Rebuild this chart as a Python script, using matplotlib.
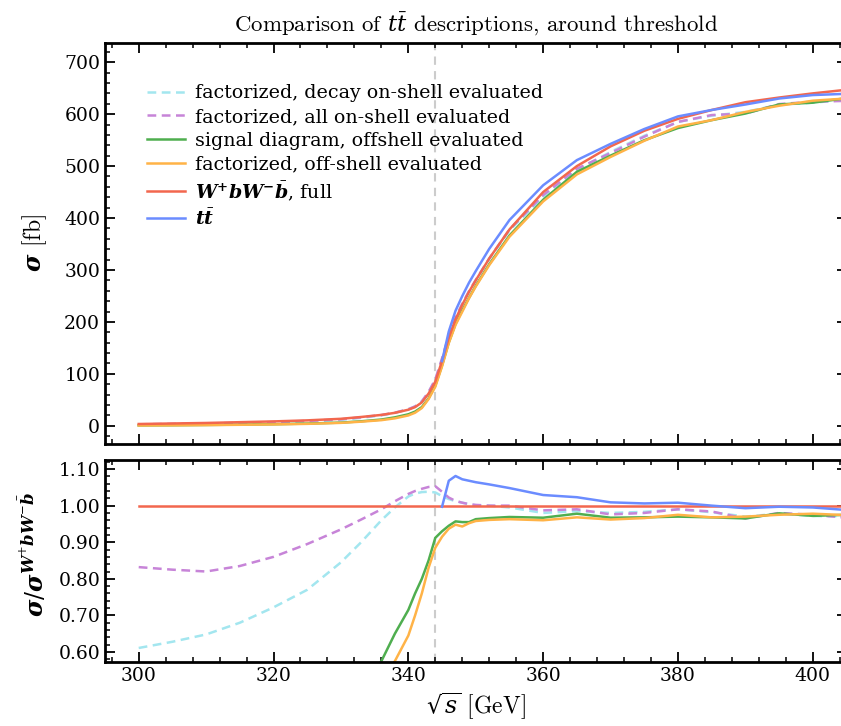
import numpy as np
import matplotlib
matplotlib.use('Agg')
import matplotlib.pyplot as plt
from matplotlib.ticker import MultipleLocator

plt.rcParams['font.family'] = ['DejaVu Serif']
plt.rcParams['mathtext.fontset'] = 'dejavuserif'

nan = np.nan

## sqrt(s) grid [GeV]
sqrt_s = [300, 305, 310, 315, 320, 325, 330, 333, 336, 338, 340, 341, 342, 343, 344,
          345, 346, 347, 348, 349, 350, 352, 355, 360, 365, 370, 375, 380, 385, 390,
          395, 400, 405]

threshold = 344

## cross sections [fb]
sig_full = [3.5, 4.5, 5.5, 7, 8.5, 10.5, 13.5, 17, 21, 25, 31, 36, 45, 62, 85,
            125, 170, 205, 233, 258, 280, 322, 378, 450, 500, 538, 568, 591, 608, 623,
            632, 640, 647]
sig_decay_os = [2.1, 2.8, 3.6, 4.8, 6.1, 8.1, 11.4, 15.3, 20.2, 24.9, 31.8, 37.2, 46.7, 64.4, 88.1,
                128.3, 173.1, 207.5, 234.9, 259.0, 280.3, 322, 376.1, 441, 492.5, 527.2, 558.3, 585.1, 597.1, 604.3,
                618.1, 622.1, 627.6]
sig_all_os = [2.9, 3.7, 4.5, 5.8, 7.3, 9.4, 12.6, 16.4, 20.8, 25.3, 32.0, 37.4, 47.1, 65.2, 89.5,
              129.8, 173.7, 207.7, 234.9, 259.0, 280.6, 322, 378, 444.2, 495, 525.1, 556.6, 585.1, 598.3, 601.2,
              619.4, 624, 625.6]
sig_signal = [0.9, 1.2, 1.7, 2.3, 3.1, 4.3, 6.2, 8.7, 12.1, 16.3, 22.2, 27.4, 36, 52.7, 77.5,
              116.3, 160.7, 196.2, 222.5, 246.4, 269.6, 311.1, 366.3, 435.2, 489, 520.2, 549.8, 573.3, 588.5, 601.2,
              618.7, 622.1, 630.8]
sig_fact_off = [0.7, 1.0, 1.4, 2.0, 2.7, 3.8, 5.7, 8.0, 10.9, 14.4, 20.0, 25.2, 34.2, 51.5, 75.2,
                114.4, 159.3, 194.3, 219.7, 245.6, 268.2, 309.4, 364.0, 432, 484, 517.6, 548.7, 576.2, 588.5, 604.3,
                616.2, 625.9, 630.2]
sig_tt = [nan, nan, nan, nan, nan, nan, nan, nan, nan, nan, nan, nan, nan, nan, nan,
          124.6, 181.6, 221.6, 249.8, 275.5, 297.9, 340.7, 396.1, 463.1, 511.5, 542.8, 571.4, 595.7, 608, 618.6,
          630.1, 636.8, 639.2]

## ratios to full W+bW-bbar
r_full = [1.0] * 33
r_decay_os = [0.611, 0.628, 0.648, 0.68, 0.722, 0.77, 0.845, 0.9, 0.96, 0.995, 1.025, 1.033, 1.037, 1.038, 1.036,
              1.026, 1.018, 1.012, 1.008, 1.004, 1.001, 1.0, 0.995, 0.98, 0.985, 0.98, 0.983, 0.99, 0.982, 0.97,
              0.978, 0.972, 0.97]
r_all_os = [0.832, 0.825, 0.82, 0.835, 0.86, 0.895, 0.935, 0.962, 0.99, 1.012, 1.032, 1.04, 1.046, 1.051, 1.053,
            1.038, 1.022, 1.013, 1.008, 1.004, 1.002, 1.0, 1.0, 0.987, 0.99, 0.976, 0.98, 0.99, 0.984, 0.965,
            0.98, 0.975, 0.967]
r_signal = [0.25, 0.27, 0.3, 0.33, 0.37, 0.41, 0.46, 0.51, 0.575, 0.65, 0.715, 0.76, 0.8, 0.85, 0.912,
            0.93, 0.945, 0.957, 0.955, 0.955, 0.963, 0.966, 0.969, 0.967, 0.978, 0.967, 0.968, 0.97, 0.968, 0.965,
            0.979, 0.972, 0.975]
r_fact_off = [0.2, 0.22, 0.25, 0.28, 0.32, 0.36, 0.42, 0.47, 0.52, 0.575, 0.645, 0.70, 0.76, 0.83, 0.885,
              0.915, 0.937, 0.948, 0.943, 0.952, 0.958, 0.961, 0.963, 0.96, 0.968, 0.962, 0.966, 0.975, 0.968, 0.97,
              0.975, 0.978, 0.974]
r_tt = [nan, nan, nan, nan, nan, nan, nan, nan, nan, nan, nan, nan, nan, nan, nan,
        0.997, 1.068, 1.081, 1.072, 1.068, 1.064, 1.058, 1.048, 1.029, 1.023, 1.009, 1.006, 1.008, 1.0, 0.993,
        0.997, 0.995, 0.988]

labels = ['factorized, decay on-shell evaluated',
          'factorized, all on-shell evaluated',
          'signal diagram, offshell evaluated',
          'factorized, off-shell evaluated',
          r'$\mathbfit{W}^{\mathbf{+}}\mathbfit{b}\mathbfit{W}^{\mathbf{-}}\bar{\mathbfit{b}}$, full',
          r'$\mathbfit{t}\bar{\mathbfit{t}}$']
colors = ['#a3e6ef', '#c784d8', '#4fae4f', '#ffb347', '#f2674e', '#6b8cff']
styles = ['--', '--', '-', '-', '-', '-']

top = [sig_decay_os, sig_all_os, sig_signal, sig_fact_off, sig_full, sig_tt]
bottom = [r_decay_os, r_all_os, r_signal, r_fact_off, r_full, r_tt]

fig = plt.figure(figsize=(8.41, 7.26), dpi=100)
ax1 = fig.add_axes([105/841, 1-444/726, 741.5/841, 401/726])
ax2 = fig.add_axes([105/841, 1-662/726, 741.5/841, 202/726])

for i in range(6):
    kw = dict(color=colors[i], lw=1.8, ls=styles[i])
    if styles[i] == '--':
        kw['dashes'] = (3.5, 2.2)
    ax1.plot(sqrt_s, top[i], label=labels[i], **kw)
    ax2.plot(sqrt_s, bottom[i], **kw)

for ax in (ax1, ax2):
    ax.axvline(threshold, color='#cccccc', lw=1.5, ls='--', dashes=(4, 3), zorder=0)
    ax.set_xlim(295, 405)
    ax.xaxis.set_major_locator(MultipleLocator(20))
    ax.xaxis.set_minor_locator(MultipleLocator(4))
    ax.tick_params(which='both', direction='in', top=True, right=True, labelsize=13.5)
    ax.tick_params(which='major', length=7, width=1.3)
    ax.tick_params(which='minor', length=3.5, width=1.1)
    for s in ax.spines.values():
        s.set_linewidth(2)

ax1.set_ylim(-35, 737)
ax1.yaxis.set_major_locator(MultipleLocator(100))
ax1.yaxis.set_minor_locator(MultipleLocator(20))
ax1.tick_params(labelbottom=False)

ax2.set_ylim(0.5727, 1.1247)
ax2.yaxis.set_major_locator(MultipleLocator(0.1))
ax2.yaxis.set_minor_locator(MultipleLocator(0.02))
ax2.yaxis.set_major_formatter(plt.FormatStrFormatter('%.2f'))

ax1.set_title(r'Comparison of $t\bar{t}$ descriptions, around threshold',
              family='cmr10', fontsize=16.5, pad=8)
ax1.set_ylabel(r'$\boldsymbol{\sigma}$ [fb]', fontsize=17, family='cmr10')
ax2.set_ylabel(r'$\boldsymbol{\sigma}/\boldsymbol{\sigma}^{\mathbfit{W}^{+}\mathbfit{b}\mathbfit{W}^{-}\bar{\mathbfit{b}}}$', fontsize=17)
ax2.set_xlabel(r'$\sqrt{s}$ [GeV]', fontsize=17, family='cmr10')
ax1.yaxis.set_label_coords(-0.075, 0.5)
ax2.yaxis.set_label_coords(-0.075, 0.53)

ax1.legend(loc='upper left', frameon=False, fontsize=13.7, labelspacing=0.3,
           handlelength=2.0, handletextpad=0.55, bbox_to_anchor=(0.033, 0.94))

fig.savefig('out.png', dpi=100)
